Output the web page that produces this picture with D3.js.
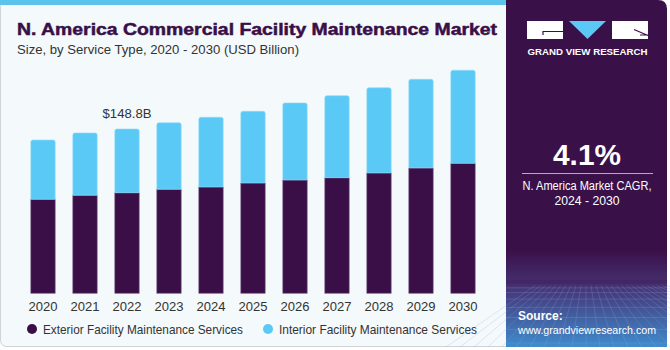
<!DOCTYPE html>
<html>
<head>
<meta charset="utf-8">
<script src="https://cdn.jsdelivr.net/npm/d3@7"></script>
<style>
  html, body { margin: 0; padding: 0; background: #ffffff; }
  svg { display: block; font-family: "Liberation Sans", Arial, sans-serif; }
</style>
</head>
<body>
<svg id="chart" width="670" height="350"></svg>
<script>
// values (USD billion)
const years = ["2020", "2021", "2022", "2023", "2024", "2025", "2026", "2027", "2028", "2029", "2030"]
const exterior = [85.1, 88.8, 91.1, 94.2, 96.3, 99.9, 102.6, 104.7, 109.0, 113.5, 117.7]
const interior = [53.7, 56.4, 57.7, 60.3, 63.1, 64.9, 69.8, 74.3, 77.2, 80.3, 84.3]
const seriesNames = ["Exterior Facility Maintenance Services", "Interior Facility Maintenance Services"]
const labelYear = "2022"
const labelText = "$148.8B"

const DARK = "#3a0f47", BLUE = "#5bc9f6"

const svg = d3.select("#chart")

// card background
svg.append("rect")
    .attr("x", 0.5).attr("y", 0.5).attr("width", 520).attr("height", 346)
    .attr("rx", 6)
    .attr("fill", "#f4f9fc").attr("stroke", "#cfd3d6")
svg.append("rect")
    .attr("x", 0).attr("y", 0).attr("width", 510).attr("height", 5)
    .attr("fill", "#5bc3ec")

// right panel
const defs = svg.append("defs")
const grad = defs.append("linearGradient").attr("id", "panelGrad")
    .attr("x1", 0).attr("y1", 0).attr("x2", 0).attr("y2", 1)
grad.append("stop").attr("offset", "0").attr("stop-color", "#3a1049")
grad.append("stop").attr("offset", "0.72").attr("stop-color", "#3a1049")
grad.append("stop").attr("offset", "0.82").attr("stop-color", "#463072")
grad.append("stop").attr("offset", "1").attr("stop-color", "#3f8ccd")

const px0 = 506, px1 = 667, py1 = 347
svg.append("path")
    .attr("d", `M${px0},0 H${px1 - 9} Q${px1},0 ${px1},9 V${py1} H${px0} Z`)
    .attr("fill", "url(#panelGrad)")

// faint grid on the bottom of the panel
const grid = svg.append("g").attr("stroke", "#8fa6d8").attr("stroke-opacity", 0.35).attr("stroke-width", 0.7)
d3.range(0, 9).forEach(i => {
    const y = 285 + i * i * 0.9 + i * 2
    grid.append("line").attr("x1", px0).attr("x2", px1).attr("y1", y).attr("y2", y)
})
d3.range(-10, 24).forEach(i => {
    const xTop = 586 + i * 5, xBot = 586 + i * 14
    grid.append("line").attr("x1", xTop).attr("y1", 285).attr("x2", xBot).attr("y2", py1)
})
svg.append("rect").attr("x", px0).attr("y", 280).attr("width", px1 - px0).attr("height", 6)
    .attr("fill", "#3f1f5c").attr("opacity", 0.5)

// logo
const logo = svg.append("g")
logo.append("rect").attr("x", 527).attr("y", 21).attr("width", 36).attr("height", 18).attr("fill", "#fff")
logo.append("path").attr("d", "M543,35 V31.5 H563").attr("fill", "none").attr("stroke", DARK).attr("stroke-width", 1.2)
logo.append("path").attr("d", "M569,21 H606 L587.5,39 Z").attr("fill", "#5bc9f6")
logo.append("rect").attr("x", 612).attr("y", 21).attr("width", 36).attr("height", 18).attr("fill", "#fff")
logo.append("path").attr("d", "M634,29.5 L648,35.5 M640,35 H648").attr("fill", "none").attr("stroke", DARK).attr("stroke-width", 1.2)
logo.append("text").attr("x", 587.5).attr("y", 54.5).attr("text-anchor", "middle")
    .attr("fill", "#fff").attr("font-size", 9).attr("font-weight", "bold")
    .attr("textLength", 120).attr("lengthAdjust", "spacingAndGlyphs")
    .text("GRAND VIEW RESEARCH")

// CAGR block
svg.append("text").attr("x", 587).attr("y", 165).attr("text-anchor", "middle")
    .attr("fill", "#fff").attr("font-size", 29).attr("font-weight", "bold")
    .attr("textLength", 68).attr("lengthAdjust", "spacingAndGlyphs").text("4.1%")
svg.append("line").attr("x1", 522).attr("x2", 653).attr("y1", 173.5).attr("y2", 173.5)
    .attr("stroke", "#b9a8c6").attr("stroke-width", 1.2)
svg.append("text").attr("x", 587).attr("y", 190).attr("text-anchor", "middle")
    .attr("fill", "#fff").attr("font-size", 12)
    .attr("textLength", 129).attr("lengthAdjust", "spacingAndGlyphs").text("N. America Market CAGR,")
svg.append("text").attr("x", 587).attr("y", 205).attr("text-anchor", "middle")
    .attr("fill", "#fff").attr("font-size", 12.5)
    .attr("textLength", 65).attr("lengthAdjust", "spacingAndGlyphs").text("2024 - 2030")

// source
svg.append("text").attr("x", 518).attr("y", 320).attr("fill", "#fff")
    .attr("font-size", 12).attr("font-weight", "bold").text("Source:")
svg.append("text").attr("x", 518).attr("y", 334).attr("fill", "#fff")
    .attr("font-size", 11)
    .attr("textLength", 138).attr("lengthAdjust", "spacingAndGlyphs").text("www.grandviewresearch.com")

// titles
svg.append("text").attr("x", 17).attr("y", 34.5).attr("fill", DARK)
    .attr("stroke", DARK).attr("stroke-width", 0.5)
    .attr("font-size", 17).attr("font-weight", "bold")
    .attr("textLength", 480).attr("lengthAdjust", "spacingAndGlyphs")
    .text("N. America Commercial Facility Maintenance Market")
svg.append("text").attr("x", 17).attr("y", 54).attr("fill", "#333")
    .attr("font-size", 13.5)
    .attr("textLength", 282).attr("lengthAdjust", "spacingAndGlyphs")
    .text("Size, by Service Type, 2020 - 2030 (USD Billion)")

// bars
const rows = years.map((y, i) => ({ year: y, exterior: exterior[i], interior: interior[i] }))
const stack = d3.stack().keys(["exterior", "interior"])(rows)

const x = d3.scaleBand().domain(years).range([22, 484]).paddingInner(0.42).paddingOuter(0.21)
const y = d3.scaleLinear().domain([0, 148.8]).range([293.3, 129])
const color = d3.scaleOrdinal().domain(["exterior", "interior"]).range([DARK, BLUE])

const r = 2
function barPath(x0, w, yTop, yBot, rounded) {
    if (!rounded) return `M${x0},${yBot} V${yTop} H${x0 + w} V${yBot} Z`
    return `M${x0},${yBot} V${yTop + r} Q${x0},${yTop} ${x0 + r},${yTop} H${x0 + w - r} Q${x0 + w},${yTop} ${x0 + w},${yTop + r} V${yBot} Z`
}

svg.append("g").selectAll("g")
    .data(stack).join("g")
    .attr("fill", d => color(d.key))
    .attr("stroke", d => d.key === "exterior" ? "#6b4a7a" : "#8fdcfa")
    .attr("stroke-width", 0.6)
    .selectAll("path")
    .data(d => d.map(p => ({ p, key: d.key })))
    .join("path")
    .attr("d", d => barPath(x(d.p.data.year), x.bandwidth(), y(d.p[1]), y(d.p[0]), d.key === "interior"))

// value label
const lblRow = rows.find(d => d.year === labelYear)
svg.append("text")
    .attr("x", x(labelYear) + x.bandwidth() / 2)
    .attr("y", y(lblRow.exterior + lblRow.interior) - 11.5)
    .attr("text-anchor", "middle").attr("fill", "#333").attr("font-size", 13.5)
    .attr("textLength", 49).attr("lengthAdjust", "spacingAndGlyphs")
    .text(labelText)

// x axis
const xAxis = svg.append("g").attr("transform", "translate(0,294)")
    .call(d3.axisBottom(x).tickSize(0).tickPadding(7))
xAxis.select(".domain").remove()
xAxis.selectAll("text").attr("font-size", 13.5).attr("fill", "#333")
    .attr("font-family", "Liberation Sans, Arial, sans-serif")
    .attr("textLength", 29).attr("lengthAdjust", "spacingAndGlyphs")

// legend
const legendX = [32, 268]
const legendLen = [200, 198]
const legend = svg.append("g").selectAll("g").data(seriesNames).join("g")
    .attr("transform", (d, i) => `translate(${legendX[i]},329)`)
legend.append("circle").attr("r", 5).attr("fill", (d, i) => [DARK, BLUE][i])
legend.append("text").attr("x", 11).attr("dy", "0.35em").attr("font-size", 13.5)
    .attr("fill", "#333")
    .attr("textLength", (d, i) => legendLen[i]).attr("lengthAdjust", "spacingAndGlyphs")
    .text(d => d)
</script>
</body>
</html>
